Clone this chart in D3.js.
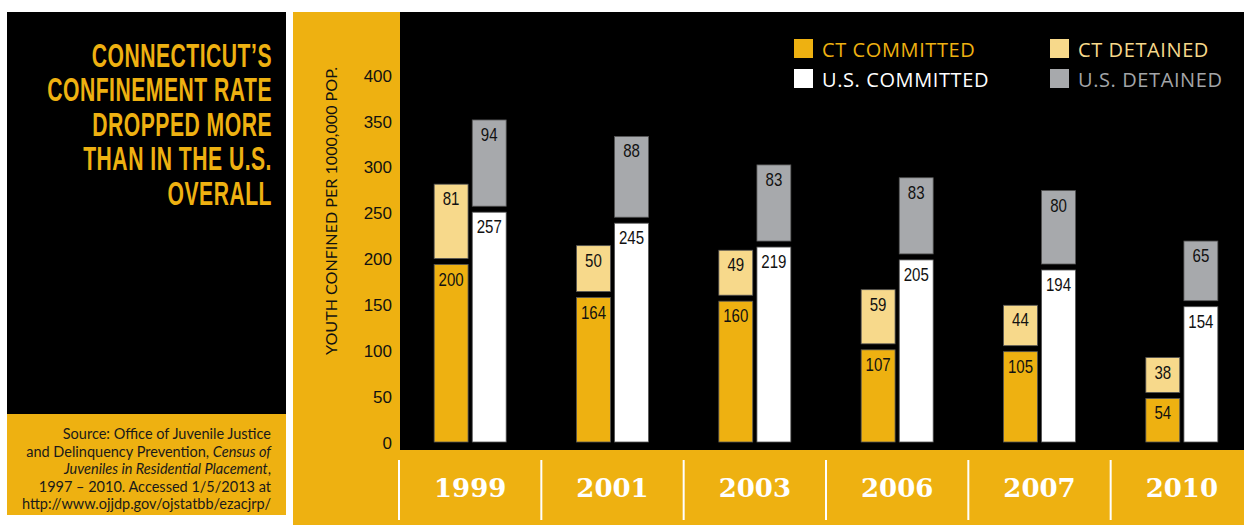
<!DOCTYPE html>
<html><head><meta charset="utf-8">
<script src="https://cdn.jsdelivr.net/npm/d3@7"></script>
<style>
html,body{margin:0;padding:0;background:#fff;}
svg{display:block;}
</style></head>
<body>
<svg id="chart" width="1244" height="525"></svg>
<script>
const years = ["1999","2001","2003","2006","2007","2010"];
const ctCommitted = [200,164,160,107,105,54];
const ctDetained  = [81,50,49,59,44,38];
const usCommitted = [257,245,219,205,194,154];
const usDetained  = [94,88,83,83,80,65];
const yTicks = [0,50,100,150,200,250,300,350,400];
const titleLines = ["CONNECTICUT\u2019S","CONFINEMENT RATE","DROPPED MORE","THAN IN THE U.S.","OVERALL"];
const legendItems = [
  {key:"ctc", label:"CT COMMITTED"},
  {key:"ctd", label:"CT DETAINED"},
  {key:"usc", label:"U.S. COMMITTED"},
  {key:"usd", label:"U.S. DETAINED"}
];
const yTitle = "YOUTH CONFINED PER 1000,000 POP.";

const GOLD = "#EEB111", LIGHT = "#F7D98B", WHITE = "#FFFFFF", GREY = "#A7A9AC";
const colors = {ctc:GOLD, ctd:LIGHT, usc:WHITE, usd:GREY};
const textColors = {ctc:GOLD, ctd:LIGHT, usc:WHITE, usd:"#A3A5A8"};

const svg = d3.select("#chart");

// ---- left panel ----
svg.append("rect").attr("x",7).attr("y",12).attr("width",279).attr("height",402).attr("fill","#000");
svg.append("rect").attr("x",7).attr("y",414).attr("width",279).attr("height",101).attr("fill",GOLD);

const titleBase = [67,101.5,136,170.5,205];
const tt = svg.append("g").attr("transform","translate(272,0) scale(0.64,1)")
  .append("text").attr("text-anchor","end")
  .attr("font-family","Liberation Sans, Arial, sans-serif").attr("font-weight","bold")
  .attr("font-size",33).attr("letter-spacing",0.8).attr("fill",GOLD);
titleLines.forEach((t,i)=>{
  tt.append("tspan").attr("x",0).attr("y",titleBase[i]).text(t);
});

// source
const src = svg.append("text").attr("transform","translate(271,0)")
  .attr("font-family","Lato, sans-serif").attr("font-size",14.5).attr("fill","#1a1a1a").attr("text-anchor","end");
const srcLines = [
  [["Source: Office of Juvenile Justice",false]],
  [["and Delinquency Prevention, ",false],["Census of",true]],
  [["Juveniles in Residential Placement",true],[",",false]],
  [["1997 \u2013 2010. Accessed 1/5/2013 at",false]],
  [["http://www.ojjdp.gov/ojstatbb/ezacjrp/",false]]
];
const srcBase = [439,457,474,492,509];
srcLines.forEach((parts,i)=>{
  parts.forEach((p,j)=>{
    const ts = src.append("tspan").attr("font-style",p[1]?"italic":"normal").text(p[0]);
    if (j===0) ts.attr("x",0).attr("y",srcBase[i]);
  });
});

// ---- right panel ----
svg.append("rect").attr("x",293).attr("y",12).attr("width",951).attr("height",513).attr("fill",GOLD);
svg.append("rect").attr("x",400).attr("y",12).attr("width",844).attr("height",438).attr("fill","#000");

const y = d3.scaleLinear().domain([0,400]).range([442,75]);
const x = d3.scaleBand().domain(years).range([399,1253]).padding(0);
const xi = d3.scaleBand().domain(["ct","us"]).range([-36,36]).paddingInner(0.11);

// y axis
const yAxis = d3.axisLeft(y).tickValues(yTicks).tickSize(0).tickPadding(0);
const ya = svg.append("g").attr("transform","translate(392,0)").call(yAxis);
ya.select(".domain").remove();
ya.selectAll("text").attr("font-family","Liberation Sans, Arial, sans-serif").attr("font-size",17)
  .attr("fill","#111").attr("dy","0.36em");

svg.append("text").attr("transform","translate(337,211) rotate(-90)")
  .attr("text-anchor","middle").attr("font-family","Lato, sans-serif").attr("font-size",16)
  .attr("fill","#111").attr("textLength",288).attr("lengthAdjust","spacingAndGlyphs").text(yTitle);

// bars
const GAP = 6;
const segs = [];
years.forEach((yr,i)=>{
  segs.push({yr, s:"ct", key:"ctc", lo:0, hi:ctCommitted[i], v:ctCommitted[i], lower:true});
  segs.push({yr, s:"ct", key:"ctd", lo:ctCommitted[i], hi:ctCommitted[i]+ctDetained[i], v:ctDetained[i], lower:false});
  segs.push({yr, s:"us", key:"usc", lo:0, hi:usCommitted[i], v:usCommitted[i], lower:true});
  segs.push({yr, s:"us", key:"usd", lo:usCommitted[i], hi:usCommitted[i]+usDetained[i], v:usDetained[i], lower:false});
});
const bx = d => x(d.yr) + x.bandwidth()/2 + xi(d.s);
const segTop = d => y(d.hi) + (d.lower ? GAP : 0);
svg.append("g").selectAll("rect").data(segs).join("rect")
  .attr("x",bx).attr("width",xi.bandwidth())
  .attr("y",segTop).attr("height",d=>y(d.lo)-segTop(d))
  .attr("fill",d=>colors[d.key]).attr("stroke","#555").attr("stroke-width",0.8);

svg.append("g").selectAll("g").data(segs).join("g")
  .attr("transform",d=>`translate(${bx(d)+xi.bandwidth()/2},${segTop(d)+21}) scale(0.86,1)`)
  .append("text").attr("text-anchor","middle")
  .attr("font-family","Liberation Sans, Arial, sans-serif").attr("font-size",17.5).attr("fill","#111")
  .text(d=>d.v);

// x labels and separators
svg.append("g").selectAll("line").data(years).join("line")
  .attr("x1",d=>x(d)).attr("x2",d=>x(d)).attr("y1",460).attr("y2",520)
  .attr("stroke","#fff").attr("stroke-width",2);
svg.append("g").selectAll("text").data(years).join("text")
  .attr("x",d=>x(d)+x.bandwidth()/2).attr("y",497).attr("text-anchor","middle")
  .attr("font-family","DejaVu Serif, serif").attr("font-weight","bold").attr("font-size",26)
  .attr("fill","#fff").text(d=>d);

// legend
const legPos = {ctc:[794,39], ctd:[1050,39], usc:[794,69], usd:[1050,69]};
const lg = svg.append("g").selectAll("g").data(legendItems).join("g")
  .attr("transform",d=>`translate(${legPos[d.key][0]},${legPos[d.key][1]})`);
lg.append("rect").attr("width",19).attr("height",19).attr("fill",d=>colors[d.key]);
lg.append("text").attr("x",28).attr("y",18).attr("font-family","Open Sans, sans-serif")
  .attr("font-size",20).attr("letter-spacing",0.6).attr("fill",d=>textColors[d.key]).text(d=>d.label);
</script>
</body></html>
